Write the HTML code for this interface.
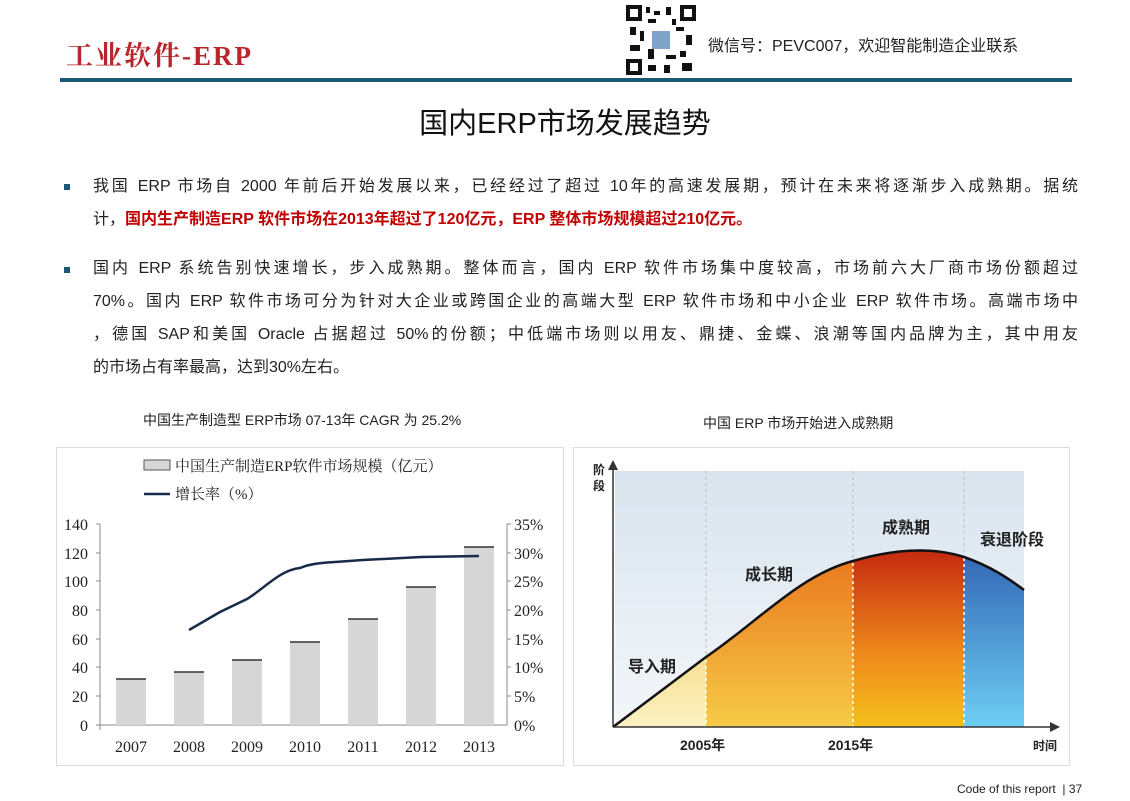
<!DOCTYPE html>
<html><head><meta charset="utf-8"><style>
body{margin:0;width:1130px;height:801px;background:#fff;position:relative;overflow:hidden;font-family:"Liberation Sans","Noto Sans CJK SC",sans-serif;}
.a{position:absolute;}
.p{font-size:16px;color:#222;line-height:33px;width:985px;}
.j{text-align:justify;text-align-last:justify;white-space:nowrap;}
</style></head><body>
<div class="a" style="left:66px;top:34px;font-size:27px;color:#b8252a;letter-spacing:2px;font-weight:bold;font-family:'Liberation Serif','Noto Serif CJK SC',serif;">工业软件-ERP</div>
<svg class="a" style="left:626px;top:5px" width="70" height="70"><rect width="70" height="70" fill="#fff"/>
<g fill="#111"><rect x="0" y="0" width="16" height="16"/><rect x="54" y="0" width="16" height="16"/><rect x="0" y="54" width="16" height="16"/>
<rect x="20" y="2" width="4" height="6"/><rect x="28" y="6" width="6" height="4"/><rect x="40" y="2" width="5" height="8"/><rect x="22" y="14" width="8" height="4"/><rect x="4" y="22" width="6" height="8"/><rect x="14" y="26" width="4" height="10"/><rect x="50" y="22" width="8" height="4"/><rect x="60" y="30" width="6" height="10"/><rect x="4" y="40" width="10" height="6"/><rect x="22" y="44" width="6" height="10"/><rect x="40" y="50" width="10" height="4"/><rect x="54" y="46" width="6" height="6"/><rect x="22" y="60" width="8" height="6"/><rect x="38" y="60" width="6" height="8"/><rect x="56" y="58" width="10" height="8"/><rect x="46" y="14" width="4" height="6"/></g>
<rect x="4" y="4" width="8" height="8" fill="#fff"/><rect x="58" y="4" width="8" height="8" fill="#fff"/><rect x="4" y="58" width="8" height="8" fill="#fff"/>
<rect x="26" y="26" width="18" height="18" fill="#7fa3c9"/></svg>
<div class="a" style="left:708px;top:32px;font-size:16px;color:#222;">微信号：PEVC007，欢迎智能制造企业联系</div>
<div class="a" style="left:60px;top:78px;width:1012px;height:4px;background:#1b5878;"></div>
<div class="a" style="left:0;width:1130px;top:100px;text-align:center;font-size:29px;color:#111;">国内ERP市场发展趋势</div>
<div class="a" style="left:64px;top:184px;width:6px;height:6px;background:#1b5878;"></div>
<div class="a p" style="left:93px;top:170px;">
<div class="j">我国 ERP 市场自 2000 年前后开始发展以来，已经经过了超过 10年的高速发展期，预计在未来将逐渐步入成熟期。据统</div>
<div>计，<span style="color:#c00000;font-weight:bold">国内生产制造ERP 软件市场在2013年超过了120亿元，ERP 整体市场规模超过210亿元。</span></div></div>
<div class="a" style="left:64px;top:267px;width:6px;height:6px;background:#1b5878;"></div>
<div class="a p" style="left:93px;top:252px;">
<div class="j">国内 ERP 系统告别快速增长，步入成熟期。整体而言，国内 ERP 软件市场集中度较高，市场前六大厂商市场份额超过</div>
<div class="j">70%。国内 ERP 软件市场可分为针对大企业或跨国企业的高端大型 ERP 软件市场和中小企业 ERP 软件市场。高端市场中</div>
<div class="j">，德国 SAP和美国 Oracle 占据超过 50%的份额；中低端市场则以用友、鼎捷、金蝶、浪潮等国内品牌为主，其中用友</div>
<div>的市场占有率最高，达到30%左右。</div></div>
<div class="a" style="left:143px;top:410px;font-size:14px;color:#222;">中国生产制造型 ERP市场 07-13年 CAGR 为 25.2%</div>
<div class="a" style="left:703px;top:413px;font-size:14px;color:#222;">中国 ERP 市场开始进入成熟期</div>

<svg class="a" style="left:0;top:0" width="1130" height="801" font-family="Liberation Serif,Noto Serif CJK SC,serif">
<rect x="56.5" y="447.5" width="507" height="318" fill="#fff" stroke="#ddd"/>
<rect x="144" y="460" width="26" height="10" fill="#d6d6d6" stroke="#555" stroke-width="1"/>
<text x="175" y="471" font-size="15" fill="#222">中国生产制造ERP软件市场规模（亿元）</text>
<line x1="144" y1="494" x2="170" y2="494" stroke="#1a2a4a" stroke-width="2.5"/>
<text x="175" y="499" font-size="15" fill="#222">增长率（%）</text>
<g stroke="#888" stroke-width="1"><line x1="100" y1="524" x2="100" y2="730"/><line x1="96" y1="725" x2="507" y2="725"/><line x1="507" y1="524" x2="507" y2="725"/>
<line x1="96" y1="524" x2="100" y2="524"/><line x1="96" y1="553" x2="100" y2="553"/><line x1="96" y1="581" x2="100" y2="581"/><line x1="96" y1="610" x2="100" y2="610"/><line x1="96" y1="639" x2="100" y2="639"/><line x1="96" y1="667" x2="100" y2="667"/><line x1="96" y1="696" x2="100" y2="696"/>
<line x1="507" y1="524" x2="511" y2="524"/><line x1="507" y1="553" x2="511" y2="553"/><line x1="507" y1="581" x2="511" y2="581"/><line x1="507" y1="610" x2="511" y2="610"/><line x1="507" y1="639" x2="511" y2="639"/><line x1="507" y1="667" x2="511" y2="667"/><line x1="507" y1="696" x2="511" y2="696"/></g>
<g font-size="16" fill="#222" text-anchor="end"><text x="88" y="530">140</text><text x="88" y="559">120</text><text x="88" y="587">100</text><text x="88" y="616">80</text><text x="88" y="645">60</text><text x="88" y="673">40</text><text x="88" y="702">20</text><text x="88" y="731">0</text></g>
<g font-size="16" fill="#222"><text x="514" y="530">35%</text><text x="514" y="559">30%</text><text x="514" y="587">25%</text><text x="514" y="616">20%</text><text x="514" y="645">15%</text><text x="514" y="673">10%</text><text x="514" y="702">5%</text><text x="514" y="731">0%</text></g>
<g fill="#d6d6d6">
<rect x="116" y="679" width="30" height="46"/><rect x="174" y="672" width="30" height="53"/><rect x="232" y="660" width="30" height="65"/><rect x="290" y="642" width="30" height="83"/><rect x="348" y="619" width="30" height="106"/><rect x="406" y="587" width="30" height="138"/><rect x="464" y="547" width="30" height="178"/></g>
<g stroke="#333" stroke-width="1.5"><line x1="116" y1="679" x2="146" y2="679"/><line x1="174" y1="672" x2="204" y2="672"/><line x1="232" y1="660" x2="262" y2="660"/><line x1="290" y1="642" x2="320" y2="642"/><line x1="348" y1="619" x2="378" y2="619"/><line x1="406" y1="587" x2="436" y2="587"/><line x1="464" y1="547" x2="494" y2="547"/></g>
<g font-size="16" fill="#222" text-anchor="middle"><text x="131" y="752">2007</text><text x="189" y="752">2008</text><text x="247" y="752">2009</text><text x="305" y="752">2010</text><text x="363" y="752">2011</text><text x="421" y="752">2012</text><text x="479" y="752">2013</text></g>
<path d="M189 630 L220 612 L247 599 C265 588 280 570 300 568 C310 564 318 563 335 562 L363 560 L421 557 L479 556" fill="none" stroke="#1a2a4a" stroke-width="2.5"/>

<rect x="573.5" y="447.5" width="496" height="318" fill="#fff" stroke="#ddd"/>
<defs>
<linearGradient id="bg" x1="0" y1="0" x2="0" y2="1"><stop offset="0" stop-color="#d9e4ee"/><stop offset="1" stop-color="#f3f6f9"/></linearGradient>
<linearGradient id="g1" x1="0" y1="0" x2="0" y2="1"><stop offset="0" stop-color="#f0c040"/><stop offset="1" stop-color="#fbf3c4"/></linearGradient>
<linearGradient id="g2" x1="0" y1="0" x2="0" y2="1"><stop offset="0" stop-color="#e8701a"/><stop offset="1" stop-color="#f6cd48"/></linearGradient>
<linearGradient id="g3" x1="0" y1="0" x2="0" y2="1"><stop offset="0" stop-color="#c0200f"/><stop offset="0.6" stop-color="#ef8a1c"/><stop offset="1" stop-color="#f4c21c"/></linearGradient>
<linearGradient id="g4" x1="0" y1="0" x2="0" y2="1"><stop offset="0" stop-color="#2f5fb0"/><stop offset="1" stop-color="#6fd0f5"/></linearGradient>
<clipPath id="c"><path d="M613 727 L706 657 C760 620 800 575 853 561 C890 550 930 546 964 557 C990 566 1008 578 1024 590 L1024 727 Z"/></clipPath>
</defs>
<rect x="615" y="471" width="409" height="256" fill="url(#bg)"/>
<g stroke="#bbb" stroke-dasharray="3,3"><line x1="706" y1="471" x2="706" y2="727"/><line x1="853" y1="471" x2="853" y2="727"/><line x1="964" y1="471" x2="964" y2="727"/></g>
<g clip-path="url(#c)"><rect x="613" y="540" width="93" height="190" fill="url(#g1)"/><rect x="706" y="540" width="147" height="190" fill="url(#g2)"/><rect x="853" y="540" width="111" height="190" fill="url(#g3)"/><rect x="964" y="540" width="60" height="190" fill="url(#g4)"/></g>
<g stroke="#fff" stroke-width="1.5" stroke-dasharray="3,3"><line x1="706" y1="660" x2="706" y2="727"/><line x1="853" y1="563" x2="853" y2="727"/><line x1="964" y1="558" x2="964" y2="727"/></g>
<path d="M613 727 L706 657 C760 620 800 575 853 561 C890 550 930 546 964 557 C990 566 1008 578 1024 590" fill="none" stroke="#111" stroke-width="2.5"/>
<line x1="613" y1="727" x2="613" y2="466" stroke="#333" stroke-width="1.5"/><path d="M608 470 L613 460 L618 470 Z" fill="#333"/>
<line x1="613" y1="727" x2="1052" y2="727" stroke="#333" stroke-width="1.5"/><path d="M1050 722 L1060 727 L1050 732 Z" fill="#333"/>
<g font-family="Liberation Sans,Noto Sans CJK SC,sans-serif" fill="#222" font-weight="bold">
<text x="593" y="474" font-size="12">阶</text><text x="593" y="490" font-size="12">段</text>
<text x="628" y="672" font-size="16">导入期</text><text x="745" y="580" font-size="16">成长期</text><text x="882" y="533" font-size="16">成熟期</text><text x="980" y="545" font-size="16">衰退阶段</text>
<text x="680" y="750" font-size="14">2005年</text><text x="828" y="750" font-size="14">2015年</text><text x="1033" y="750" font-size="12">时间</text></g>
</svg>
<div class="a" style="left:957px;top:782px;font-size:12px;color:#222;">Code of this report &nbsp;| 37</div>
</body></html>
